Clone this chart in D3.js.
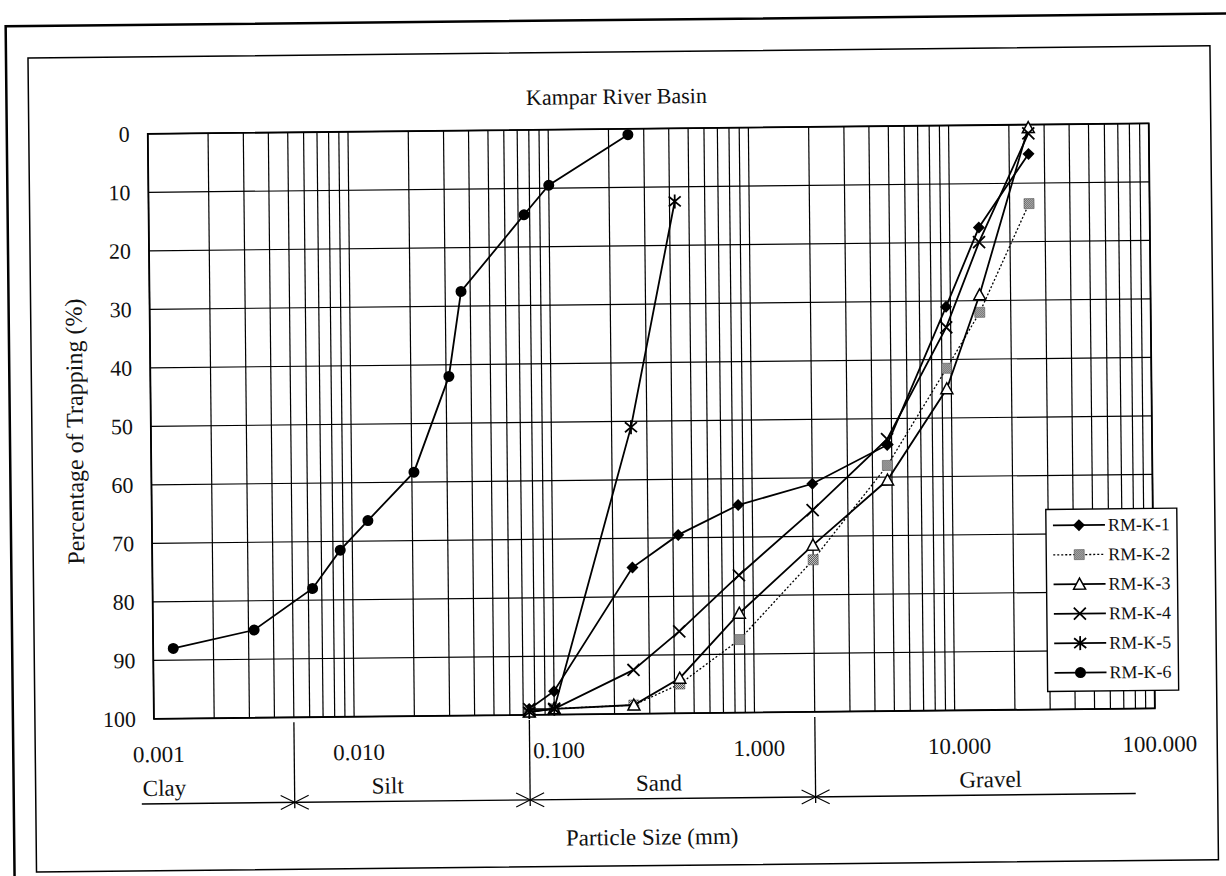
<!DOCTYPE html>
<html>
<head>
<meta charset="utf-8">
<script src="https://cdn.jsdelivr.net/npm/d3@7"></script>
<style>
  body { margin: 0; background: #fff; }
  svg { display: block; }
  text { font-family: "Liberation Serif", "Times New Roman", serif; fill: #111; }
</style>
</head>
<body>
<div id="chart"></div>
<script>
'use strict';

// sieve sizes (mm) shared by RM-K-1 .. RM-K-4
var sieveSizes = [0.075, 0.1, 0.25, 0.425, 0.85, 2, 4.75, 9.5, 14, 25];
var rmk1 = [99, 96, 75, 69.5, 64.5, 61, 54.5, 31, 17.5, 5];
var rmk2 = [99.5, 99, 98.5, 95, 87.5, 74, 58, 41.5, 32, 13.5];
var rmk3 = [99.5, 99, 98.5, 94, 83, 71.5, 60.5, 45, 29, 0.5];
var rmk4 = [99, 99, 92.5, 86, 76.5, 65.5, 53.5, 34.5, 20, 1.5];
// RM-K-5 only has the fine sieves
var rmk5Sizes = [0.075, 0.1, 0.25, 0.425];
var rmk5 = [99.5, 99, 51, 12.5];
// RM-K-6 includes hydrometer readings
var rmk6Sizes = [0.00126, 0.0032, 0.0063, 0.0087, 0.012, 0.0205, 0.031, 0.036, 0.075, 0.1, 0.25];
var rmk6 = [88, 85, 78, 71.5, 66.5, 58.3, 42, 27.5, 14.5, 9.5, 1];

var yTicks = [0, 10, 20, 30, 40, 50, 60, 70, 80, 90, 100];
var xTickValues = [0.001, 0.01, 0.1, 1, 10, 100];
var classBounds = [0.005, 0.075, 2];
var classNames = ['Clay', 'Silt', 'Sand', 'Gravel'];

var series = [
  { name: 'RM-K-1', x: sieveSizes, y: rmk1, marker: 'diamond' },
  { name: 'RM-K-2', x: sieveSizes, y: rmk2, marker: 'hatch', dash: '2,2' },
  { name: 'RM-K-3', x: sieveSizes, y: rmk3, marker: 'triangle' },
  { name: 'RM-K-4', x: sieveSizes, y: rmk4, marker: 'cross' },
  { name: 'RM-K-5', x: rmk5Sizes, y: rmk5, marker: 'star' },
  { name: 'RM-K-6', x: rmk6Sizes, y: rmk6, marker: 'circle' }
];

var W = 1226, H = 876;
var svg = d3.select('#chart').append('svg').attr('width', W).attr('height', H);

var defs = svg.append('defs');
var pat = defs.append('pattern').attr('id', 'chk')
  .attr('width', 2).attr('height', 2).attr('patternUnits', 'userSpaceOnUse');
pat.append('rect').attr('width', 2).attr('height', 2).attr('fill', '#fff');
pat.append('rect').attr('width', 1).attr('height', 1).attr('fill', '#222');
pat.append('rect').attr('x', 1).attr('y', 1).attr('width', 1).attr('height', 1).attr('fill', '#222');

// the scanned figure sits slightly tilted
var root = svg.append('g').attr('transform', 'rotate(-0.6,613,438)');

// page frames
root.append('rect').attr('x', 10).attr('y', 20).attr('width', 1240).attr('height', 900)
  .attr('fill', 'none').attr('stroke', '#000').attr('stroke-width', 2.5);
root.append('rect').attr('x', 32).attr('y', 52).attr('width', 1182).attr('height', 814)
  .attr('fill', 'none').attr('stroke', '#000').attr('stroke-width', 1.5);

var x = d3.scaleLog().domain([0.001, 100]).range([151, 1152]);
var y = d3.scaleLinear().domain([0, 100]).range([129, 714]);

var plot = root.append('g');

// grid
plot.append('g').selectAll('line').data(x.ticks()).join('line')
  .attr('x1', function (d) { return x(d); }).attr('x2', function (d) { return x(d); })
  .attr('y1', y(0)).attr('y2', y(100))
  .attr('stroke', '#000').attr('stroke-width', 1.2);
plot.append('g').selectAll('line').data(yTicks).join('line')
  .attr('x1', x.range()[0]).attr('x2', x.range()[1])
  .attr('y1', function (d) { return y(d); }).attr('y2', function (d) { return y(d); })
  .attr('stroke', '#000').attr('stroke-width', 1.2);
plot.append('rect').attr('x', x.range()[0]).attr('y', y(0))
  .attr('width', x.range()[1] - x.range()[0]).attr('height', y(100) - y(0))
  .attr('fill', 'none').attr('stroke', '#000').attr('stroke-width', 1.8);

// axes labels
var yAxis = plot.append('g').attr('transform', 'translate(' + x.range()[0] + ',0)')
  .call(d3.axisLeft(y).tickValues(yTicks).tickSize(0).tickPadding(18));
yAxis.select('.domain').remove();
yAxis.selectAll('text').attr('font-size', 22).attr('font-family', null).attr('fill', '#111');

var xAxis = plot.append('g').attr('transform', 'translate(4,' + y(100) + ')')
  .call(d3.axisBottom(x).tickValues(xTickValues).tickFormat(d3.format('.3f')).tickSize(0).tickPadding(27));
xAxis.select('.domain').remove();
xAxis.selectAll('text').attr('font-size', 23).attr('font-family', null).attr('fill', '#111');

root.append('text').attr('x', 620).attr('y', 104).attr('text-anchor', 'middle')
  .attr('font-size', 22).text('Kampar River Basin');
root.append('text').attr('transform', 'translate(83,426) rotate(-90)').attr('text-anchor', 'middle')
  .attr('font-size', 24).text('Percentage of Trapping (%)');

// soil class scale under the axis
var classY = 799;
root.append('line').attr('x1', 138).attr('x2', 1132).attr('y1', classY).attr('y2', classY)
  .attr('stroke', '#000').attr('stroke-width', 1.4);
var bnd = root.append('g').selectAll('g').data(classBounds).join('g')
  .attr('transform', function (d) { return 'translate(' + x(d) + ',' + classY + ')'; });
bnd.append('line').attr('y1', y(100) + 5 - classY).attr('y2', 6)
  .attr('stroke', '#000').attr('stroke-width', 1.3);
bnd.append('path').attr('d', 'M-14,-7L14,7M-14,7L14,-7')
  .attr('stroke', '#000').attr('stroke-width', 1.1).attr('fill', 'none');
var classAnchor = [0.00112, 0.0146, 0.33, 15];
root.append('g').selectAll('text').data(classNames).join('text')
  .attr('x', function (d, i) { return x(classAnchor[i]); }).attr('y', 791)
  .attr('text-anchor', 'middle').attr('font-size', 23)
  .text(function (d) { return d; });
root.append('text').attr('x', 648).attr('y', 845).attr('text-anchor', 'middle')
  .attr('font-size', 23).text('Particle Size (mm)');

// markers
function marker(g, type) {
  if (type === 'diamond') {
    g.append('path').attr('d', 'M0,-6L6,0L0,6L-6,0Z').attr('fill', '#000');
  } else if (type === 'hatch') {
    g.append('rect').attr('x', -5).attr('y', -5).attr('width', 10).attr('height', 10)
      .attr('fill', 'url(#chk)').attr('stroke', '#555').attr('stroke-width', 0.6);
  } else if (type === 'triangle') {
    g.append('path').attr('d', 'M0,-6L6,5L-6,5Z').attr('fill', '#fff')
      .attr('stroke', '#000').attr('stroke-width', 1.5);
  } else if (type === 'cross') {
    g.append('path').attr('d', 'M-6,-6L6,6M-6,6L6,-6').attr('stroke', '#000').attr('stroke-width', 1.8);
  } else if (type === 'star') {
    g.append('path').attr('d', 'M-6,-5L6,5M-6,5L6,-5M0,-7L0,7').attr('stroke', '#000').attr('stroke-width', 1.8);
  } else {
    g.append('circle').attr('r', 5.5).attr('fill', '#000');
  }
}

var line = d3.line().x(function (d) { return x(d[0]); }).y(function (d) { return y(d[1]); });

series.forEach(function (s) {
  var pts = s.x.map(function (v, i) { return [v, s.y[i]]; });
  var g = plot.append('g');
  g.append('path').datum(pts).attr('d', line).attr('fill', 'none')
    .attr('stroke', '#000').attr('stroke-width', s.dash ? 1.3 : 1.8)
    .attr('stroke-dasharray', s.dash || null);
  g.selectAll('g').data(pts).join('g')
    .attr('transform', function (d) { return 'translate(' + x(d[0]) + ',' + y(d[1]) + ')'; })
    .each(function () { marker(d3.select(this), s.marker); });
});

// legend
var leg = root.append('g').attr('transform', 'translate(1045,514)');
leg.append('rect').attr('width', 131).attr('height', 182).attr('fill', '#fff')
  .attr('stroke', '#000').attr('stroke-width', 1.4);
var item = leg.selectAll('g').data(series).join('g')
  .attr('transform', function (d, i) { return 'translate(0,' + (16 + i * 29.5) + ')'; });
item.append('line').attr('x1', 7).attr('x2', 59)
  .attr('stroke', '#000').attr('stroke-width', function (d) { return d.dash ? 1.3 : 1.8; })
  .attr('stroke-dasharray', function (d) { return d.dash || null; });
item.append('g').attr('transform', 'translate(33,0)')
  .each(function (d) { marker(d3.select(this), d.marker); });
item.append('text').attr('x', 62).attr('y', 6).attr('font-size', 18)
  .text(function (d) { return d.name; });
</script>
</body>
</html>
